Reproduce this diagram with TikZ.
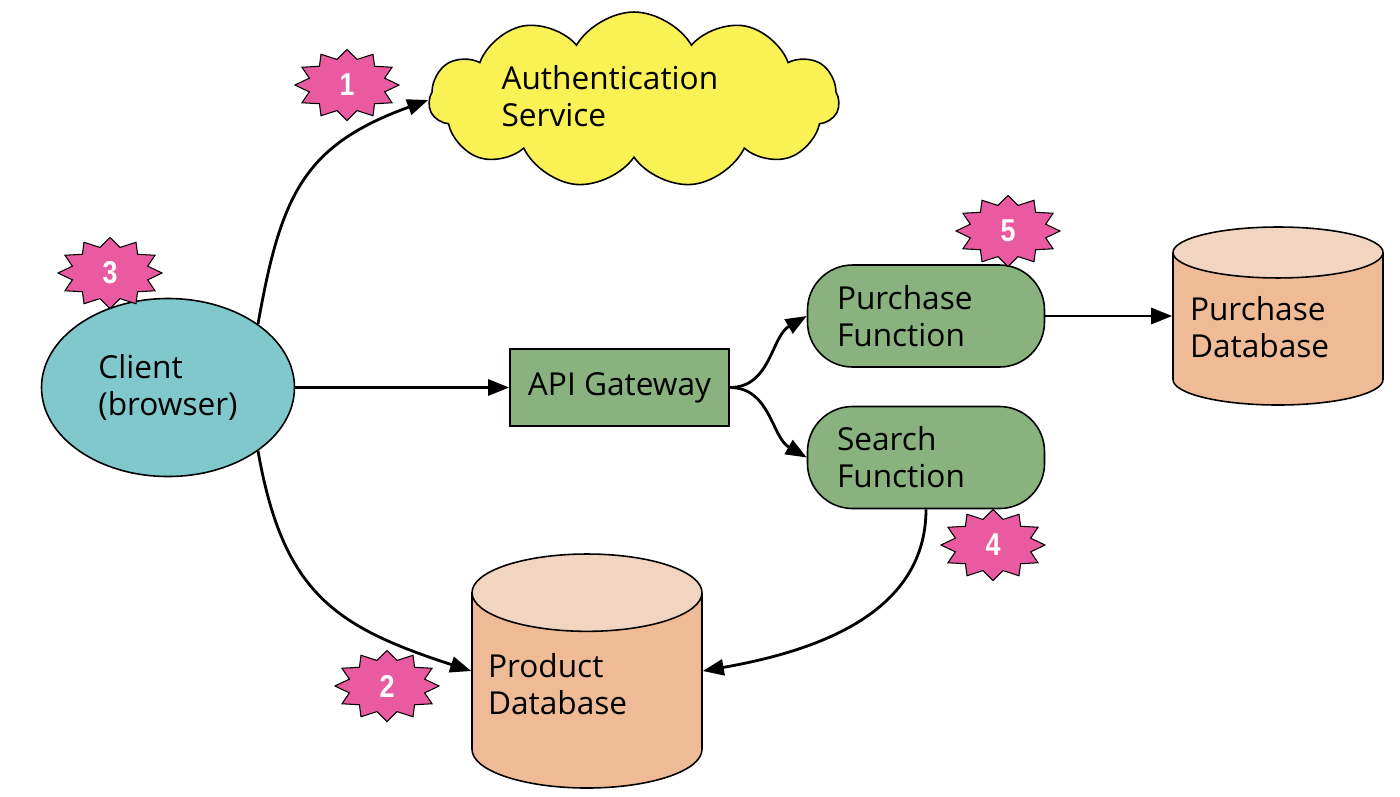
\documentclass[tikz,border=0pt]{standalone}
\usepackage{fontspec}
\setmainfont{Open Sans}
\newfontfamily\numfont[FakeStretch=0.85]{Liberation Sans}
\usetikzlibrary{shapes.geometric,shapes.symbols,arrows.meta}
\definecolor{cloudyellow}{RGB}{250,242,85}
\definecolor{clientteal}{RGB}{128,200,204}
\definecolor{fngreen}{RGB}{137,178,126}
\definecolor{dbbody}{RGB}{238,187,150}
\definecolor{dbtop}{RGB}{241,213,192}
\definecolor{burstpink}{RGB}{233,90,160}
\tikzset{box/.style={draw, line width=0.9pt, font=\fontsize{18}{21}\selectfont, align=left}}
\tikzset{fn/.style={box, fill=fngreen, rounded corners=0.9cm, minimum width=4.74cm, minimum height=2.04cm, text width=3.56cm}}
\tikzset{db/.style={draw, line width=0.9pt, cylinder, shape border rotate=90, inner sep=5pt, anchor=shape center,
    cylinder uses custom fill, cylinder body fill=dbbody, cylinder end fill=dbtop}}
\tikzset{dbtext/.style={font=\fontsize{18}{21}\selectfont, align=left, text width=3.56cm, inner sep=0pt}}
\tikzset{arr/.style={line width=1.6pt, -{Triangle[length=0.42cm, width=0.32cm]}}}
\tikzset{burst/.pic={
    \draw[line width=0.6pt, fill=burstpink] (1.04,0)
        \foreach \a [evaluate=\a as \rx using {mod(\a,30)==0 ? 1.04 : 0.78},
                     evaluate=\a as \ry using {mod(\a,30)==0 ? 0.71 : 0.53}] in {15,30,...,345}
        { -- ({\rx*cos(\a)},{\ry*sin(\a)}) } -- cycle;
    \node[text=white, font=\numfont\bfseries\fontsize{18}{18}\selectfont] (-n) {#1};
}}

\begin{document}
\begin{tikzpicture}
    \useasboundingbox (0,0) rectangle (28,-15.92);

    \node[box, cloud, cloud puffs=11, cloud puff arc=120, cloud ignores aspect, fill=cloudyellow,
        minimum width=8.2cm, minimum height=3.52cm, inner sep=0pt, text width=5.3cm, text depth=0.9cm]
        (auth) at (12.68,-2.0) {Authentication\\Service};
    \node[box, ellipse, fill=clientteal, minimum width=5.06cm, minimum height=3.56cm] (client) at (3.36,-7.75)
        {Client\\(browser)};
    \node[box, fill=fngreen, minimum width=4.38cm, minimum height=1.54cm] (api) at (12.39,-7.75) {API Gateway};
    \node[fn] (purchfn) at (18.52,-6.32) {Purchase\\Function};
    \node[fn] (searchfn) at (18.52,-9.15) {Search\\Function};

    \node[db, aspect=2.9, minimum width=4.2cm, minimum height=3.56cm] (purchdb) at (25.56,-6.32) {};
    \node[dbtext] (purchdbtxt) at (25.58,-6.54) {Purchase\\Database};
    \node[db, aspect=4.4, minimum width=4.6cm, minimum height=4.68cm] (proddb) at (11.74,-13.42) {};
    \node[dbtext] (proddbtxt) at (11.54,-13.69) {Product\\Database};

    \draw [arr] (client.north east) to [out=80, in=200, looseness=1.2] (auth.west);
    \draw [arr] (client.south east) to [out=-80, in=162, looseness=1.2] (proddb.west |- proddb.shape center);
    \draw [arr] (client) -- (api);
    \draw [arr] (api.east) to [out=0, in=210] (purchfn.west);
    \draw [arr] (api.east) to [out=0, in=150] (searchfn.west);
    \draw [arr] (purchfn.east) -- (purchfn.east -| purchdb.west);
    \draw [arr] (searchfn.south) to [out=-90, in=10] (proddb.east |- proddb.shape center);

    \pic (b1) at (6.94,-1.70) {burst=1};
    \pic (b2) at (7.74,-13.72) {burst=2};
    \pic (b3) at (2.20,-5.46) {burst=3};
    \pic (b4) at (19.86,-10.90) {burst=4};
    \pic (b5) at (20.16,-4.62) {burst=5};
\end{tikzpicture}
\end{document}
